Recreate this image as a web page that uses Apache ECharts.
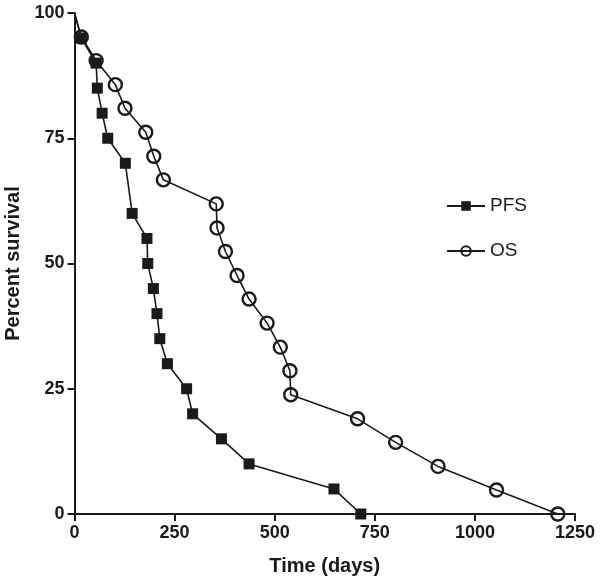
<!DOCTYPE html>
<html>
<head>
<meta charset="utf-8">
<script src="https://cdn.jsdelivr.net/npm/echarts@6/dist/echarts.min.js"></script>
<style>html,body{margin:0;padding:0;background:#fff}#c{width:601px;height:582px}</style>
</head>
<body>
<div id="c"></div>
<script>
// Kaplan-Meier style curves; first point (0, 100) is the curve start (no marker)
const pfsDays = [0, 17, 54, 57, 69, 83, 127, 144, 181, 183, 197, 206, 213, 232, 280, 295, 367, 436, 648, 715];
const pfsValues = [100, 95, 90, 85, 80, 75, 70, 60, 55, 50, 45, 40, 35, 30, 25, 20, 15, 10, 5, 0];
const osDays = [0, 17, 54, 102, 126, 178, 198, 222, 354, 356, 377, 406, 436, 481, 514, 538, 540, 707, 802, 908, 1054, 1207];
const osValues = [100, 95.2, 90.5, 85.7, 81.0, 76.2, 71.4, 66.7, 61.9, 57.1, 52.4, 47.6, 42.9, 38.1, 33.3, 28.6, 23.8, 19.0, 14.3, 9.5, 4.8, 0];
const seriesNames = ['PFS', 'OS'];
const xTicks = [0, 250, 500, 750, 1000, 1250];
const yTicks = [0, 25, 50, 75, 100];

const ink = '#1a1a1a';
const font = 'Liberation Sans, Arial, sans-serif';
const chart = echarts.init(document.getElementById('c'), null, {renderer: 'canvas'});
const build = (xs, ys) => xs.map((v, i) => i === 0
  ? {value: [v, ys[i]], symbol: 'none'}
  : [v, ys[i]]);
chart.setOption({
  animation: false,
  backgroundColor: '#fff',
  grid: {left: 74.5, top: 13, width: 500.5, height: 501, containLabel: false, outerBoundsMode: 'none'},
  legend: {
    orient: 'vertical', left: 446, top: 196.5, padding: 0, itemWidth: 38, itemHeight: 12, itemGap: 26,
    textStyle: {fontFamily: font, fontSize: 19, color: ink},
    data: seriesNames
  },
  xAxis: {
    type: 'value', min: xTicks[0], max: xTicks[xTicks.length - 1], interval: 250,
    name: 'Time (days)', nameLocation: 'middle', nameGap: 42,
    nameTextStyle: {fontFamily: font, fontSize: 20, fontWeight: 'bold', color: ink},
    axisLine: {show: true, lineStyle: {color: ink, width: 2}},
    axisTick: {show: true, length: 7, lineStyle: {color: ink, width: 2}},
    axisLabel: {margin: 10, fontFamily: font, fontSize: 18, fontWeight: 'bold', color: ink,
      formatter: v => String(v)},
    splitLine: {show: false}
  },
  yAxis: {
    type: 'value', min: yTicks[0], max: yTicks[yTicks.length - 1], interval: 25,
    name: 'Percent survival', nameLocation: 'middle', nameGap: 49,
    nameTextStyle: {fontFamily: font, fontSize: 20, fontWeight: 'bold', color: ink},
    axisLine: {show: true, lineStyle: {color: ink, width: 2}},
    axisTick: {show: true, length: 7, lineStyle: {color: ink, width: 2}},
    axisLabel: {margin: 10, fontFamily: font, fontSize: 18, fontWeight: 'bold', color: ink,
      formatter: v => String(v)},
    splitLine: {show: false}
  },
  series: [
    {
      name: seriesNames[1], type: 'line', data: build(osDays, osValues),
      symbol: 'circle', symbolSize: 13,
      lineStyle: {color: ink, width: 1.6},
      itemStyle: {color: 'rgba(255,255,255,0)', borderColor: ink, borderWidth: 2.4},
      z: 2
    },
    {
      name: seriesNames[0], type: 'line', data: build(pfsDays, pfsValues),
      symbol: 'rect', symbolSize: 11,
      lineStyle: {color: ink, width: 1.6},
      itemStyle: {color: ink, borderColor: ink, borderWidth: 0},
      z: 3
    }
  ]
});
</script>
</body>
</html>
